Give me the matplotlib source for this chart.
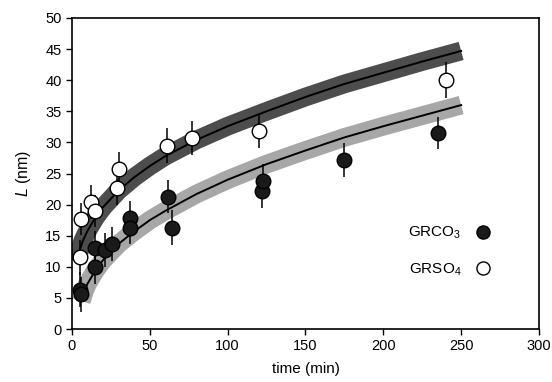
import matplotlib
matplotlib.use("Agg")
import matplotlib.pyplot as plt


# Measured crystallite size L (nm) vs ageing time (min), with +/- error
so4_t = [5, 6, 12, 15, 29, 30, 61, 77, 120, 240]
so4_L = [11.5, 17.7, 20.4, 19.0, 22.7, 25.7, 29.5, 30.7, 31.9, 40.0]
so4_err = [2.8, 2.6, 2.7, 2.6, 2.8, 2.8, 2.8, 2.7, 2.8, 2.9]

co3_t = [5, 6, 15, 15, 21, 26, 37, 37, 62, 64, 122, 123, 175, 235]
co3_L = [6.3, 5.6, 10.0, 13.1, 12.7, 13.7, 17.8, 16.3, 21.3, 16.3, 22.2, 23.8, 27.2, 31.5]
co3_err = [2.8, 2.8, 2.7, 2.7, 2.7, 2.7, 2.7, 2.7, 2.7, 2.8, 2.7, 2.7, 2.7, 2.6]

# Growth-law fit curves
so4_fit_t = [3, 5, 7, 10, 15, 20, 30, 40, 50, 60, 80, 100, 125, 150, 175, 200, 225, 250]
so4_fit_L = [10.9, 12.7, 14.2, 15.8, 17.9, 19.6, 22.3, 24.4, 26.2, 27.8, 30.4, 32.6,
             35.0, 37.3, 39.4, 41.2, 43.0, 44.7]

co3_fit_t = [6, 8, 10, 15, 20, 30, 40, 50, 60, 80, 100, 125, 150, 175, 200, 225, 250]
co3_fit_L = [4.5, 6.1, 7.3, 9.4, 11.1, 13.7, 15.7, 17.5, 19.0, 21.7, 24.0, 26.5,
             28.7, 30.8, 32.6, 34.3, 36.0]

plt.rcParams["font.family"] = ["Liberation Sans", "DejaVu Sans"]
plt.rcParams["mathtext.fontset"] = "custom"
plt.rcParams["mathtext.rm"] = "Liberation Sans"
plt.rcParams["mathtext.it"] = "Liberation Sans:italic"

fig = plt.figure(figsize=(5.52, 3.82), dpi=100)
ax = fig.add_axes([0.1304, 0.1387, 0.846, 0.8142])

# Bands with the fitted line on top
ax.plot(so4_fit_t, so4_fit_L, color="#4d4d4d", lw=13.5, solid_capstyle="butt", zorder=1)
ax.plot(co3_fit_t, co3_fit_L, color="#a7a7a7", lw=13.5, solid_capstyle="butt", zorder=1)
ax.plot(so4_fit_t[1:], so4_fit_L[1:], color="black", lw=1.4, zorder=2)
ax.plot(co3_fit_t[1:], co3_fit_L[1:], color="black", lw=1.4, zorder=2)

# Error bars first, then the markers over them
ax.errorbar(co3_t, co3_L, yerr=co3_err, fmt="none", ecolor="black", elinewidth=1.1, zorder=3)
ax.errorbar(so4_t, so4_L, yerr=so4_err, fmt="none", ecolor="black", elinewidth=1.1, zorder=3)
ax.plot(co3_t, co3_L, "o", ms=10.5, mfc="#1a1a1a", mec="black", mew=1, ls="none",
        label=r"GRCO$_3$", zorder=4)
ax.plot(so4_t, so4_L, "o", ms=10.5, mfc="white", mec="black", mew=1, ls="none",
        label=r"GRSO$_4$", zorder=4)

ax.set_xlim(0, 300)
ax.set_ylim(0, 50)
ax.set_xticks(range(0, 301, 50))
ax.set_yticks(range(0, 51, 5))
ax.tick_params(direction="out", length=4, width=1, labelsize=10.5, top=False, right=False)
for sp in ax.spines.values():
    sp.set_linewidth(1.2)

ax.set_xlabel("time (min)", fontsize=11, labelpad=6)
ax.set_ylabel(r"$L$ (nm)", fontsize=11.5, labelpad=9)

ax.legend(loc="center right", bbox_to_anchor=(0.925, 0.25), frameon=False,
          markerfirst=False, fontsize=11, handlelength=1.0, handletextpad=0.9,
          labelspacing=1.3, markerscale=0.9)

fig.savefig("out.png", dpi=100)
